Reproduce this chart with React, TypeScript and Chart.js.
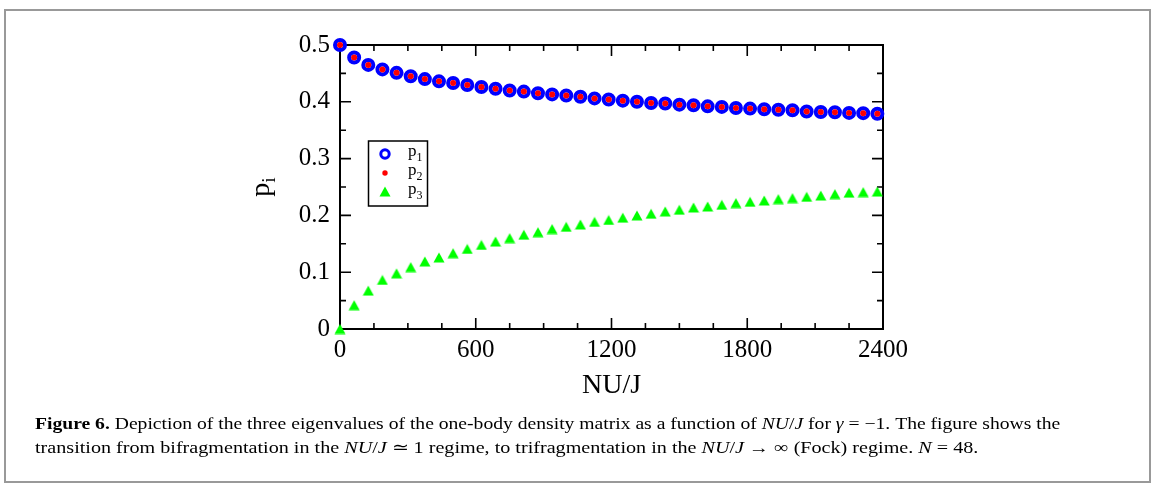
import React, { useEffect, useRef } from 'react';
import { Chart, registerables } from 'chart.js';

Chart.register(...registerables);

// NU/J values of the sampled points
const xValues = [
  0, 62.5, 125, 187.5, 250, 312.5, 375, 437.5, 500, 562.5, 625, 687.5, 750,
  812.5, 875, 937.5, 1000, 1062.5, 1125, 1187.5, 1250, 1312.5, 1375, 1437.5,
  1500, 1562.5, 1625, 1687.5, 1750, 1812.5, 1875, 1937.5, 2000, 2062.5, 2125,
  2187.5, 2250, 2312.5, 2375,
];

const p1Values = [
  0.5, 0.478, 0.465, 0.457, 0.451, 0.445, 0.44, 0.436, 0.433, 0.4295, 0.426,
  0.423, 0.42, 0.418, 0.415, 0.413, 0.411, 0.409, 0.406, 0.404, 0.402, 0.4,
  0.398, 0.397, 0.395, 0.394, 0.392, 0.391, 0.389, 0.388, 0.387, 0.386, 0.385,
  0.383, 0.382, 0.3815, 0.3805, 0.38, 0.379,
];

const p2Values = [
  0.5, 0.478, 0.465, 0.457, 0.451, 0.445, 0.44, 0.436, 0.433, 0.4295, 0.426,
  0.423, 0.42, 0.418, 0.415, 0.413, 0.411, 0.409, 0.406, 0.404, 0.402, 0.4,
  0.398, 0.397, 0.395, 0.394, 0.392, 0.391, 0.389, 0.388, 0.387, 0.386, 0.385,
  0.383, 0.382, 0.3815, 0.3805, 0.38, 0.379,
];

const p3Values = [
  0, 0.042, 0.0676, 0.0864, 0.098, 0.109, 0.119, 0.126, 0.1335, 0.141, 0.148,
  0.154, 0.16, 0.166, 0.1705, 0.176, 0.18, 0.184, 0.1887, 0.192, 0.196, 0.2,
  0.203, 0.207, 0.21, 0.214, 0.2157, 0.2187, 0.2217, 0.224, 0.2263, 0.2287,
  0.2305, 0.2328, 0.235, 0.2375, 0.24, 0.241, 0.242,
];

const seriesLabels = ['p1', 'p2', 'p3'];
const xTicks = [0, 600, 1200, 1800, 2400];
const yTicks = [0, 0.1, 0.2, 0.3, 0.4, 0.5];
const xTitle = 'NU/J';

const SERIF = '"Liberation Serif", "Times New Roman", serif';

function makeTriangle(w: number, h: number, color: string) {
  const c = document.createElement('canvas');
  c.width = w + 1;
  c.height = h + 1;
  const g = c.getContext('2d')!;
  g.fillStyle = color;
  g.beginPath();
  g.moveTo((w + 1) / 2, 0.5);
  g.lineTo(w + 0.5, h + 0.5);
  g.lineTo(0.5, h + 0.5);
  g.closePath();
  g.fill();
  return c;
}

export default function App() {
  const canvasRef = useRef<HTMLCanvasElement | null>(null);
  const line1Ref = useRef<HTMLDivElement | null>(null);
  const line2Ref = useRef<HTMLDivElement | null>(null);

  useEffect(() => {
    const fit = (el: HTMLDivElement | null, target: number) => {
      if (!el) return;
      el.style.transform = 'none';
      const w = el.scrollWidth;
      if (w > 0) el.style.transform = `scaleX(${target / w})`;
    };
    fit(line1Ref.current, 1025);
    fit(line2Ref.current, 943);
  }, []);

  useEffect(() => {
    if (!canvasRef.current) return;
    const tri = makeTriangle(11, 10, '#00ff00');

    const framePlugin = {
      id: 'frameTicks',
      beforeDatasetsDraw(chart: any) {
        const { ctx, chartArea } = chart;
        const { left, right, top, bottom } = chartArea;
        const xs = chart.scales.x;
        const ys = chart.scales.y;
        ctx.save();
        ctx.strokeStyle = '#000';
        ctx.lineWidth = 2;
        ctx.strokeRect(left, top, right - left, bottom - top);
        ctx.lineWidth = 1.6;
        ctx.beginPath();
        for (let k = 0; k <= 16; k++) {
          const v = k * 150;
          const px = xs.getPixelForValue(v);
          const len = k % 4 === 0 ? 11 : 6;
          ctx.moveTo(px, bottom);
          ctx.lineTo(px, bottom - len);
          ctx.moveTo(px, top);
          ctx.lineTo(px, top + len);
        }
        for (let k = 0; k <= 10; k++) {
          const v = k * 0.05;
          const py = ys.getPixelForValue(v);
          const len = k % 2 === 0 ? 11 : 6;
          ctx.moveTo(left, py);
          ctx.lineTo(left + len, py);
          ctx.moveTo(right, py);
          ctx.lineTo(right - len, py);
        }
        ctx.stroke();
        ctx.restore();
      },
    };

    const annotPlugin = {
      id: 'annot',
      afterDraw(chart: any) {
        const { ctx, chartArea } = chart;
        ctx.save();
        ctx.fillStyle = '#000';
        // y axis title p_i
        ctx.translate(269, (chartArea.top + chartArea.bottom) / 2);
        ctx.rotate(-Math.PI / 2);
        ctx.font = `28px ${SERIF}`;
        const wp = ctx.measureText('p').width;
        ctx.font = `19px ${SERIF}`;
        const wi = ctx.measureText('i').width;
        const total = wp + wi;
        ctx.textBaseline = 'alphabetic';
        ctx.textAlign = 'left';
        ctx.font = `28px ${SERIF}`;
        ctx.fillText('p', -total / 2, 0);
        ctx.font = `19px ${SERIF}`;
        ctx.fillText('i', -total / 2 + wp, 6);
        ctx.restore();

        // legend
        ctx.save();
        const bx = 368.5, by = 141, bw = 59, bh = 65;
        ctx.strokeStyle = '#000';
        ctx.lineWidth = 1.5;
        ctx.strokeRect(bx, by, bw, bh);
        const mx = 385;
        const rows = [154, 173, 191.5];
        // p1 ring
        ctx.beginPath();
        ctx.arc(mx, rows[0], 4.2, 0, Math.PI * 2);
        ctx.strokeStyle = '#0000ff';
        ctx.lineWidth = 3;
        ctx.stroke();
        // p2 dot
        ctx.beginPath();
        ctx.arc(mx, rows[1], 2.7, 0, Math.PI * 2);
        ctx.fillStyle = '#ff0000';
        ctx.fill();
        // p3 triangle
        ctx.drawImage(tri, mx - tri.width / 2, rows[2] - tri.height / 2);
        ctx.fillStyle = '#000';
        ctx.textBaseline = 'alphabetic';
        ctx.textAlign = 'left';
        seriesLabels.forEach((lab, i) => {
          ctx.font = `17px ${SERIF}`;
          ctx.fillText(lab.charAt(0), 408, rows[i] + 2);
          const w = ctx.measureText(lab.charAt(0)).width;
          ctx.font = `12px ${SERIF}`;
          ctx.fillText(lab.slice(1), 408 + w, rows[i] + 7);
        });
        ctx.restore();
      },
    };

    const chart = new Chart(canvasRef.current, {
      type: 'scatter',
      data: {
        labels: xValues,
        datasets: [
          {
            label: seriesLabels[1],
            data: xValues.map((x, i) => ({ x, y: p2Values[i] })),
            pointStyle: 'circle',
            pointRadius: 3,
            pointBorderWidth: 0,
            pointBackgroundColor: '#ff0000',
            pointBorderColor: '#ff0000',
            showLine: false,
            clip: false,
            order: 0,
          },
          {
            label: seriesLabels[0],
            data: xValues.map((x, i) => ({ x, y: p1Values[i] })),
            pointStyle: 'circle',
            pointRadius: 5,
            pointBorderWidth: 4,
            pointBackgroundColor: 'rgba(0,0,0,0)',
            pointBorderColor: '#0000ff',
            showLine: false,
            clip: false,
            order: 1,
          },
          {
            label: seriesLabels[2],
            data: xValues.map((x, i) => ({ x, y: p3Values[i] })),
            pointStyle: tri as any,
            pointRadius: 6,
            backgroundColor: '#00ff00',
            borderColor: '#00ff00',
            showLine: false,
            clip: false,
            order: 2,
          },
        ],
      },
      options: {
        animation: false,
        responsive: false,
        maintainAspectRatio: false,
        layout: { padding: { left: 250, top: 45, right: 271, bottom: 82 } },
        plugins: {
          legend: { display: false },
          tooltip: { enabled: false },
          title: { display: false },
        },
        scales: {
          x: {
            type: 'linear',
            min: 0,
            max: 2400,
            grid: { display: false, drawTicks: false },
            border: { display: false },
            afterFit: (s: any) => {
              s.height = 73;
            },
            afterBuildTicks: (s: any) => {
              s.ticks = xTicks.map((v) => ({ value: v }));
            },
            ticks: {
              color: '#000',
              padding: 6,
              maxRotation: 0,
              font: { family: SERIF, size: 25 },
              callback: (v: any) => String(v),
            },
            title: {
              display: true,
              text: xTitle,
              color: '#000',
              padding: 0,
              font: { family: SERIF, size: 28 },
            },
          },
          y: {
            type: 'linear',
            min: 0,
            max: 0.5,
            grid: { display: false, drawTicks: false },
            border: { display: false },
            afterFit: (s: any) => {
              s.width = 90;
            },
            afterBuildTicks: (s: any) => {
              s.ticks = yTicks.map((v) => ({ value: v }));
            },
            ticks: {
              color: '#000',
              padding: 10,
              font: { family: SERIF, size: 25 },
              callback: (v: any) => String(Math.round(v * 10) / 10),
            },
          },
        },
      },
      plugins: [framePlugin, annotPlugin],
    });
    return () => chart.destroy();
  }, []);

  const capStyle: React.CSSProperties = {
    position: 'absolute',
    left: 35,
    whiteSpace: 'nowrap',
    fontFamily: SERIF,
    fontSize: 16.8,
    lineHeight: '23px',
    color: '#000',
    transformOrigin: 'left top',
  };

  return (
    <div style={{ position: 'absolute', left: 0, top: 0, width: 1154, height: 484, background: '#fff' }}>
      <div
        style={{
          position: 'absolute',
          left: 4,
          top: 9,
          width: 1143,
          height: 470,
          border: '2px solid #999',
        }}
      />
      <canvas
        ref={canvasRef}
        width={1154}
        height={484}
        style={{ position: 'absolute', left: 0, top: 0, width: 1154, height: 484 }}
      />
      <div ref={line1Ref} style={{ ...capStyle, top: 412 }}>
        <b>Figure 6.</b> Depiction of the three eigenvalues of the one-body density matrix as a function of{' '}
        <i>NU</i>/<i>J</i> for <i>γ</i> = −1. The figure shows the
      </div>
      <div ref={line2Ref} style={{ ...capStyle, top: 435.5 }}>
        transition from bifragmentation in the <i>NU</i>/<i>J</i> ≃ 1 regime, to trifragmentation in the{' '}
        <i>NU</i>/<i>J</i> → ∞ (Fock) regime. <i>N</i> = 48.
      </div>
    </div>
  );
}
